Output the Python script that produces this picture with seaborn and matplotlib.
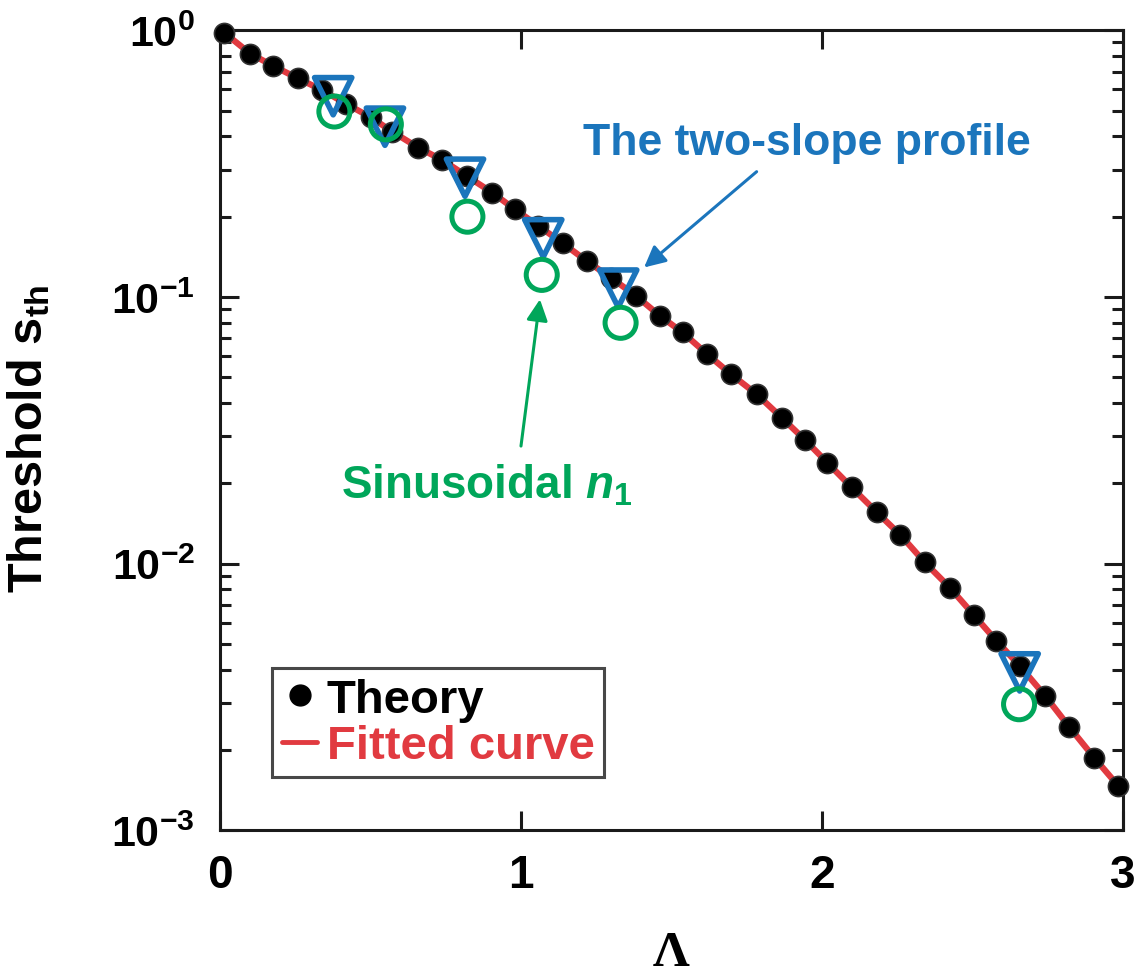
import numpy as np
import pandas as pd
import matplotlib
matplotlib.use("Agg")
import matplotlib.pyplot as plt
import seaborn as sns
from matplotlib.lines import Line2D
from matplotlib.ticker import LogLocator, FixedLocator, NullLocator

# ---------------- data ----------------
lam_theory = [0.014, 0.100, 0.177, 0.258, 0.340, 0.419, 0.502, 0.572, 0.659, 0.739,
              0.820, 0.905, 0.980, 1.057, 1.139, 1.220, 1.299, 1.382, 1.462, 1.537,
              1.619, 1.698, 1.783, 1.866, 1.945, 2.018, 2.099, 2.182, 2.261, 2.342,
              2.425, 2.505, 2.580, 2.658, 2.741, 2.822, 2.905, 2.984]
s_theory = [0.98, 0.818, 0.735, 0.661, 0.596, 0.530, 0.471, 0.417, 0.363, 0.326,
            0.284, 0.246, 0.213, 0.185, 0.159, 0.136, 0.118, 0.101, 0.0849, 0.0736,
            0.0610, 0.0513, 0.0432, 0.0353, 0.0290, 0.0239, 0.0193, 0.0156, 0.0128, 0.0101,
            0.00813, 0.00641, 0.00513, 0.00413, 0.0032, 0.00244, 0.00187, 0.00147]

lam_twoslope = [0.376, 0.548, 0.814, 1.074, 1.323, 2.657]
s_twoslope = [0.566, 0.435, 0.280, 0.166, 0.1075, 0.00391]

lam_sinus = [0.380, 0.551, 0.822, 1.069, 1.331, 2.655]
s_sinus = [0.496, 0.444, 0.200, 0.121, 0.080, 0.00297]

x_ticks = [0, 1, 2, 3]
y_ticks = [1e-3, 1e-2, 1e-1, 1e0]

# colours
RED = "#e13a40"
BLUE = "#1b75bc"
GREEN = "#00a65a"
INK = "#1a1a1a"

# ---------------- style ----------------
sns.set_theme(style="ticks")
plt.rcParams["font.family"] = ["Liberation Sans", "DejaVu Sans"]
plt.rcParams["font.weight"] = "bold"
plt.rcParams["mathtext.fontset"] = "custom"
plt.rcParams["mathtext.rm"] = "Liberation Sans:bold"
plt.rcParams["mathtext.bf"] = "Liberation Sans:bold"
plt.rcParams["mathtext.it"] = "Liberation Sans:bold:italic"
plt.rcParams["mathtext.default"] = "rm"
plt.rcParams["text.color"] = "black"
plt.rcParams["axes.labelcolor"] = "black"

fig = plt.figure(figsize=(11.4, 9.78), dpi=100)
ax = fig.add_axes([0.193, 0.150, 0.792, 0.818])

df_t = pd.DataFrame({"lam": lam_theory, "s": s_theory})
df_2 = pd.DataFrame({"lam": lam_twoslope, "s": s_twoslope})
df_s = pd.DataFrame({"lam": lam_sinus, "s": s_sinus})

sns.lineplot(data=df_t, x="lam", y="s", ax=ax, color=RED, lw=4.5, sort=True,
             zorder=2, legend=False)
sns.scatterplot(data=df_t, x="lam", y="s", ax=ax, color="black", s=210,
                edgecolor="#333333", linewidth=1.2, zorder=3, legend=False, clip_on=False)
sns.scatterplot(data=df_2, x="lam", y="s", ax=ax, marker="v", s=720,
                facecolor="none", edgecolor=BLUE, linewidth=4.0, zorder=4, legend=False)
sns.scatterplot(data=df_s, x="lam", y="s", ax=ax, marker="o", s=500,
                facecolor="none", edgecolor=GREEN, linewidth=3.6, zorder=4, legend=False)

ax.set_yscale("log")
ax.set_xlim(0, 3)
ax.set_ylim(1e-3, 1e0)
ax.xaxis.set_major_locator(FixedLocator(x_ticks))
ax.xaxis.set_minor_locator(NullLocator())
ax.yaxis.set_major_locator(FixedLocator(y_ticks))
ax.yaxis.set_minor_locator(LogLocator(base=10, subs=np.arange(2, 10), numticks=20))

ax.tick_params(which="both", direction="in", top=True, right=True, width=2.2,
               colors=INK)
ax.tick_params(which="major", length=14, labelsize=31, pad=18, labelcolor="black")
ax.tick_params(which="minor", length=8)
ax.tick_params(axis="x", which="major", labelsize=33, pad=16)
for sp in ax.spines.values():
    sp.set_linewidth(2.2)
    sp.set_color(INK)

ax.set_xlabel("Λ", fontsize=37, family="Liberation Serif", fontweight="bold",
              color="black")
ax.xaxis.label.set_va("baseline")
ax.xaxis.set_label_coords(0.5, -0.168)
ax.set_ylabel(r"Threshold $\mathbf{s_{th}}$", fontsize=35, fontweight="bold",
              color="black")
ax.yaxis.set_label_coords(-0.186, 0.49)

# annotations
ax.text(1.95, 0.38, "The two-slope profile", color=BLUE, fontsize=32,
        fontweight="bold", ha="center", va="center")
ax.annotate("", xy=(1.409, 0.129), xytext=(1.783, 0.295),
            arrowprops=dict(arrowstyle="-|>", color=BLUE, lw=2.2, mutation_scale=32,
                            shrinkA=0, shrinkB=0))
ax.annotate("", xy=(1.063, 0.098), xytext=(1.0, 0.0276),
            arrowprops=dict(arrowstyle="-|>", color=GREEN, lw=2.2, mutation_scale=32,
                            shrinkA=0, shrinkB=0))
ax.text(0.887, 0.0198, r"Sinusoidal $\mathit{n}_{\mathbf{1}}$", color=GREEN, fontsize=33,
        fontweight="bold", ha="center", va="center")

# legend
handles = [
    Line2D([], [], marker="o", color="black", linestyle="none", markersize=15),
    Line2D([], [], color=RED, lw=3.5),
]
leg = ax.legend(handles, ["Theory", "Fitted curve"], loc="lower left",
                bbox_to_anchor=(0.058, 0.066), borderaxespad=0, fontsize=34,
                handlelength=0.75, handletextpad=0.2, borderpad=0.2,
                labelspacing=0.05, frameon=True, fancybox=False)
leg.get_frame().set_edgecolor(INK)
leg.get_frame().set_linewidth(2.2)
leg.get_texts()[0].set_color("black")
leg.get_texts()[1].set_color(RED)
for t in leg.get_texts():
    t.set_fontweight("bold")

fig.savefig("out.png", dpi=100)
